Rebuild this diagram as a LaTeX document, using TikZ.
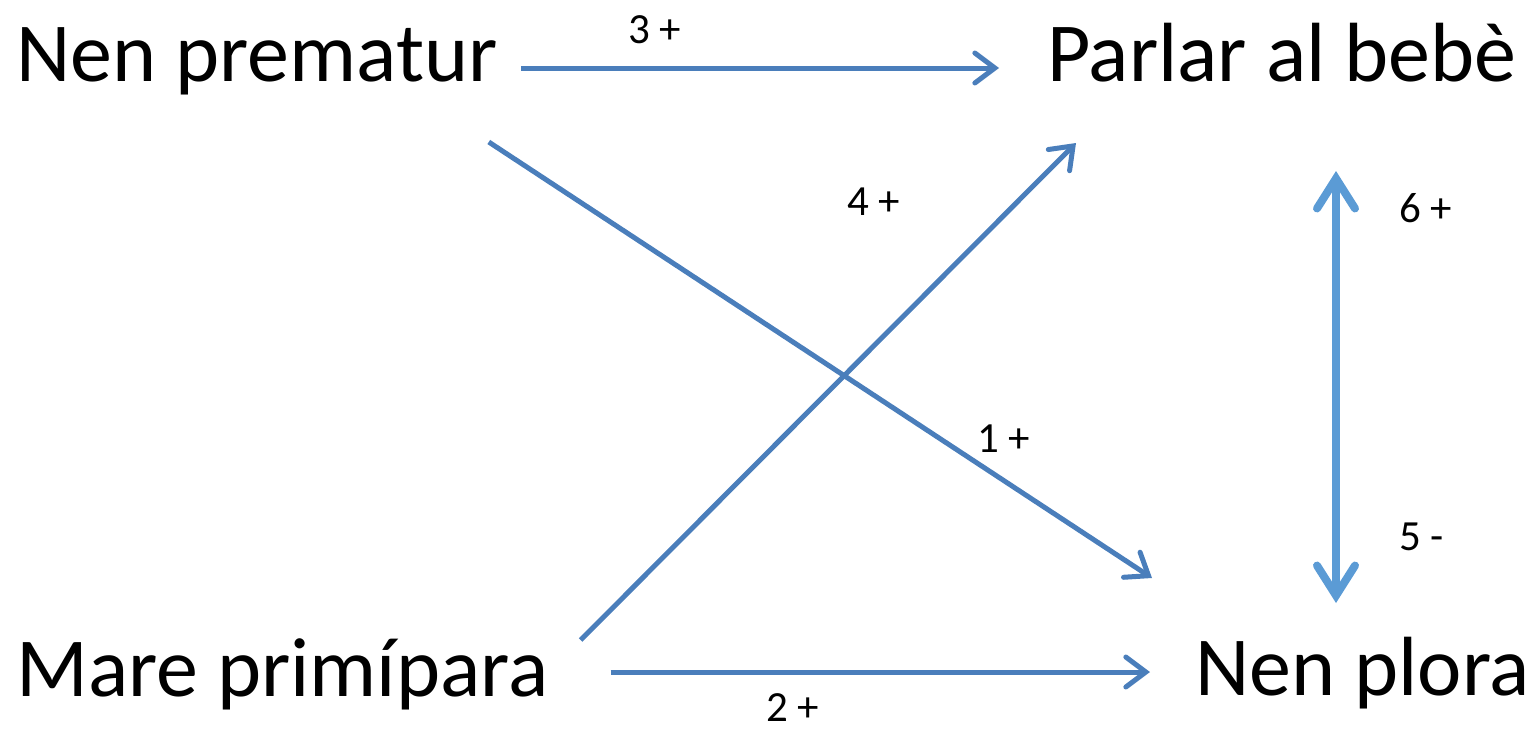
\documentclass[tikz,border=0pt]{standalone}
\usepackage{fontspec}
\setmainfont{Carlito}
\usepackage{xcolor}
\usetikzlibrary{arrows.meta}

\definecolor{linkblue}{HTML}{4A7EBB}
\definecolor{pairblue}{HTML}{5B9BD5}

\begin{document}
\begin{tikzpicture}[
        x=1pt, y=-1pt, % pixel grid, y pointing down
        factor/.style={inner sep=0pt, anchor=base west, font=\fontsize{84}{100}\selectfont},
        sign/.style={inner sep=0pt, anchor=base west, font=\fontsize{43}{50}\selectfont},
        link/.style={linkblue, line width=5pt, -{Straight Barb[length=20pt, width=30pt, line cap=round]}},
        pair/.style={pairblue, line width=8pt, line cap=round, {Straight Barb[length=30pt, width=38pt, line cap=round]}-{Straight Barb[length=30pt, width=38pt, line cap=round]}}
    ]
        \useasboundingbox (0,0) rectangle (1530,732);

        % Factors
        \node[factor] (prem) at (16,81) {Nen prematur};
        \node[factor] (parl) at (1047,81) {Parlar al bebè};
        \node[factor] (mare) at (16,696) {Mare primípara};
        \node[factor] (plora) at (1195,695) {Nen plora};

        % Links
        \draw[link] ([xshift=23pt, yshift=13pt]prem.base east) -- ([xshift=-48pt, yshift=13pt]parl.base west);
        \draw[link] ([xshift=-9pt, yshift=-61pt]prem.base east) -- ([xshift=-43pt, yshift=117pt]plora.base west);
        \draw[link] ([xshift=32pt, yshift=56pt]mare.base east) -- ([xshift=29pt, yshift=-62pt]parl.base west);
        \draw[link] ([xshift=62pt, yshift=24pt]mare.base east) -- ([xshift=-45pt, yshift=23pt]plora.base west);
        \draw[pair] ([xshift=289pt, yshift=-90pt]parl.base west) -- ([xshift=141pt, yshift=92pt]plora.base west);

        % Signs
        \node[sign] (s3) at (628,43) {3 +};
        \node[sign] (s1) at (977,452) {1 +};
        \node[sign] (s4) at (847,215) {4 +};
        \node[sign] (s2) at (766,721) {2 +};
        \node[sign] (s6) at (1399,222) {6 +};
        \node[sign] (s5) at (1399,550) {5 -};

    \end{tikzpicture}
\end{document}
